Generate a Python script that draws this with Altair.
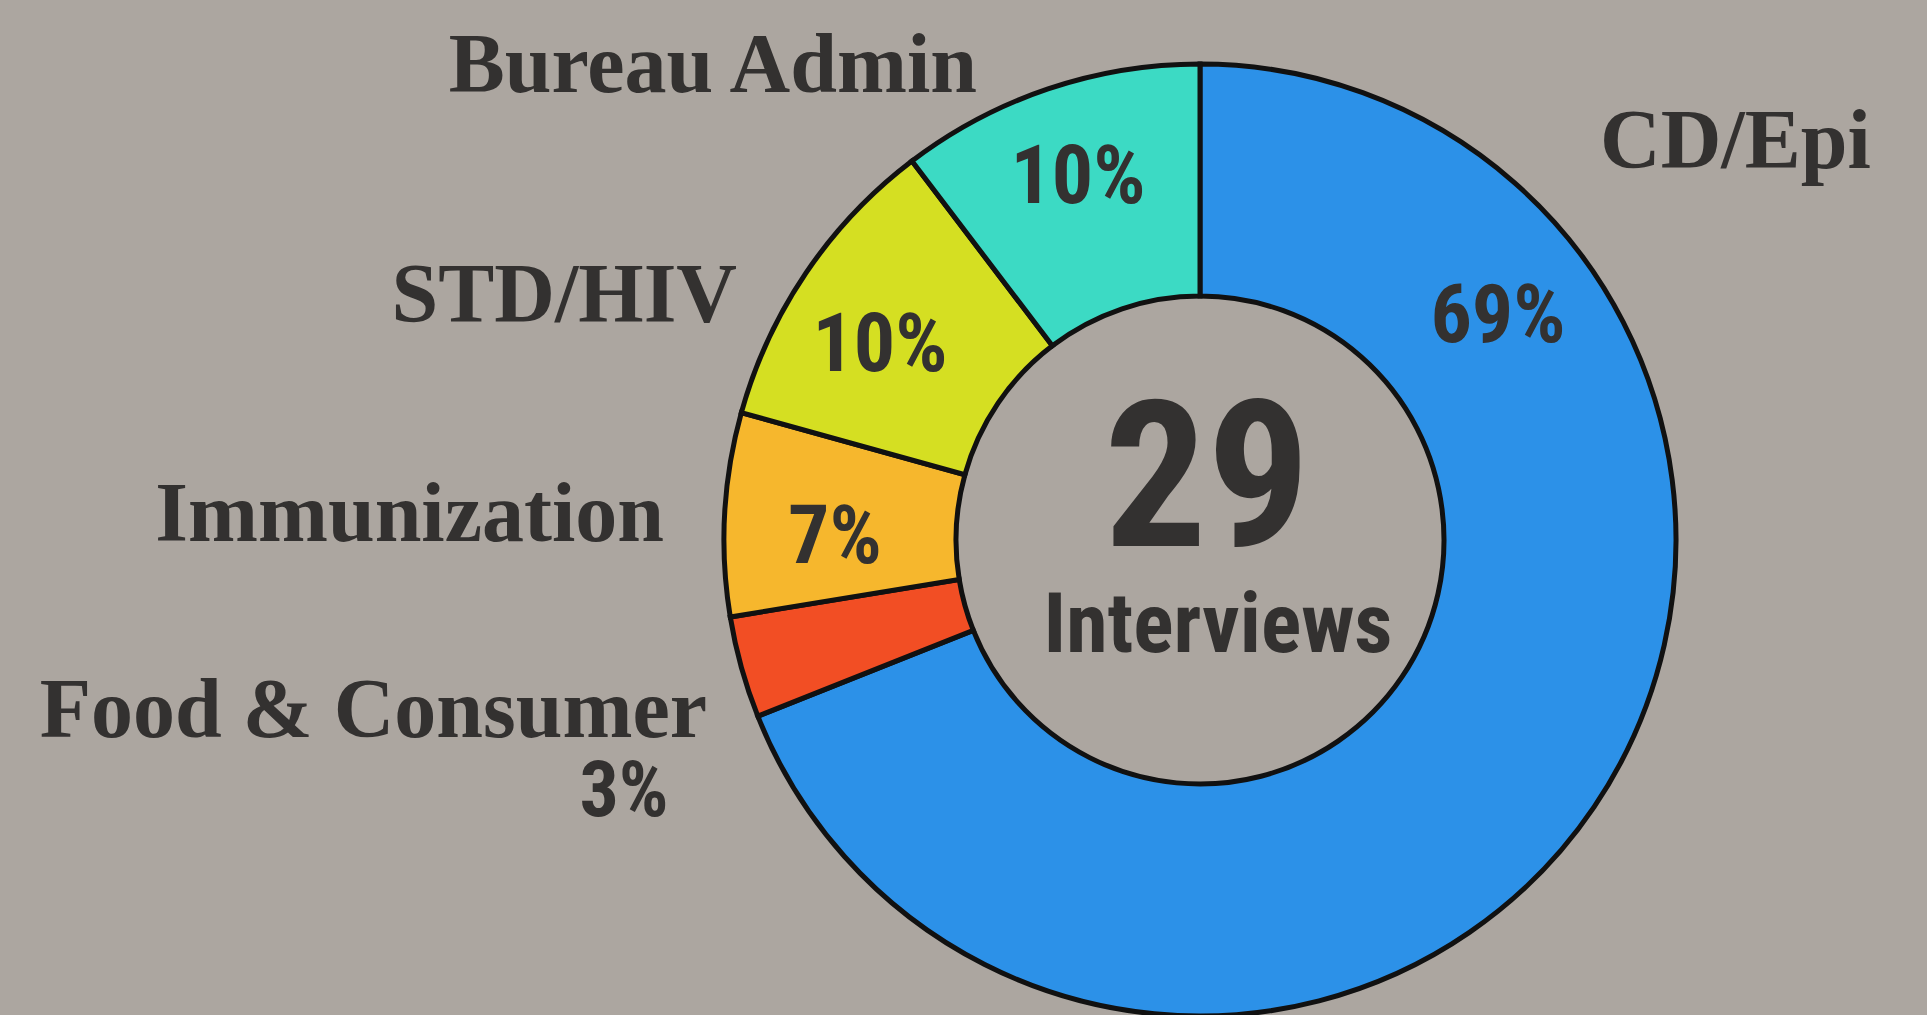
import altair as alt
import pandas as pd

# ---- data ----
categories = ["CD/Epi", "Food & Consumer", "Immunization", "STD/HIV", "Bureau Admin"]
counts = [20, 1, 2, 3, 3]
colors = ["#2C91E8", "#F24E24", "#F6B72D", "#D5DF22", "#3CDAC4"]
total = sum(counts)
pct_labels = [f"{round(c / total * 100)}%" for c in counts]

# ---- layout (annotation anchors, pixels) ----
CX, CY = 1200, 540
R_OUT, R_IN = 476, 244
cat_anchor_x = [1600, 707, 664, 737, 977]
cat_anchor_y = [168, 737, 541, 322, 92]
cat_align = ["left", "right", "right", "right", "right"]
pct_anchor_x = [1498, 624, 835, 880, 1078]
pct_anchor_y = [342, 816, 563, 371, 203]
pct_size = [82, 78, 82, 82, 82]

BG = "#ACA6A0"
INK = "#333130"
SERIF = "Liberation Serif"
NARROW = "Liberation Sans Narrow, Roboto Condensed, Roboto, sans-serif"

df = pd.DataFrame({
    "category": categories,
    "count": counts,
    "idx": list(range(len(categories))),
})

arc = alt.Chart(df).mark_arc(
    innerRadius=R_IN, outerRadius=R_OUT, stroke="#111111", strokeWidth=5
).encode(
    theta=alt.Theta("count:Q", stack=True),
    order=alt.Order("idx:Q"),
    color=alt.Color("category:N", scale=alt.Scale(domain=categories, range=colors), legend=None),
    x=alt.value(CX),
    y=alt.value(CY),
)

lab_df = pd.DataFrame({
    "label": categories,
    "x": cat_anchor_x,
    "y": cat_anchor_y,
    "align": cat_align,
})

layers = [arc]
for al in ["left", "right"]:
    sub = lab_df[lab_df["align"] == al]
    layers.append(
        alt.Chart(sub).mark_text(
            font=SERIF, fontWeight="bold", fontSize=84, color=INK,
            align=al, baseline="alphabetic",
        ).encode(
            x=alt.X("x:Q", scale=None, axis=None),
            y=alt.Y("y:Q", scale=None, axis=None),
            text="label:N",
        )
    )

pct_df = pd.DataFrame({
    "label": pct_labels,
    "x": pct_anchor_x,
    "y": pct_anchor_y,
    "size": pct_size,
})
layers.append(
    alt.Chart(pct_df).mark_text(
        font=NARROW, fontWeight="bold", color=INK, align="center", baseline="alphabetic",
    ).encode(
        x=alt.X("x:Q", scale=None, axis=None),
        y=alt.Y("y:Q", scale=None, axis=None),
        text="label:N",
        size=alt.Size("size:Q", scale=None, legend=None),
    )
)

center_df = pd.DataFrame({"label": [str(total)], "sub": ["Interviews"]})
layers.append(
    alt.Chart(center_df).mark_text(
        font=NARROW, fontWeight="bold", fontSize=204, color=INK,
        align="center", baseline="alphabetic",
    ).encode(x=alt.value(1207), y=alt.value(546), text="label:N")
)
layers.append(
    alt.Chart(center_df).mark_text(
        font=NARROW, fontWeight="bold", fontSize=84, color=INK,
        align="center", baseline="alphabetic",
    ).encode(x=alt.value(1218), y=alt.value(652), text="sub:N")
)

chart = alt.layer(*layers).properties(
    width=1927, height=1015,
    autosize=alt.AutoSizeParams(type="none"),
    padding=0,
    background=BG,
).configure_view(stroke=None)

chart.save("out.html", embed_options={"renderer": "svg", "actions": False})
